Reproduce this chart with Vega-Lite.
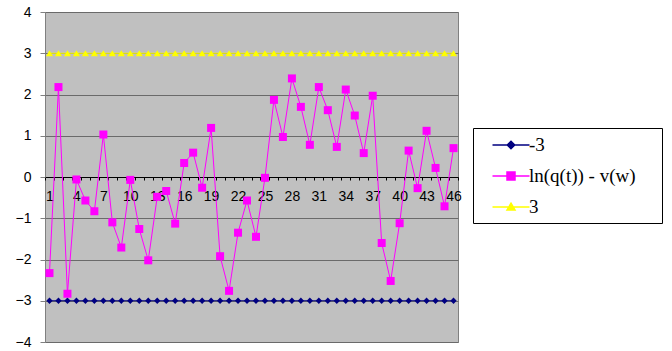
{
  "$schema": "https://vega.github.io/schema/vega-lite/v6.json",
  "width": 413,
  "height": 330,
  "autosize": "none",
  "padding": {"left": 45, "top": 12, "right": 214, "bottom": 9},
  "background": "white",
  "config": {
    "view": {"fill": "#c0c0c0", "stroke": "#808080", "strokeWidth": 1},
    "font": "Liberation Sans"
  },
  "data": {
    "values": [
      {"t": 1, "-3": -3, "ln(q(t)) - v(w)": -2.33, "3": 3},
      {"t": 2, "-3": -3, "ln(q(t)) - v(w)": 2.18, "3": 3},
      {"t": 3, "-3": -3, "ln(q(t)) - v(w)": -2.83, "3": 3},
      {"t": 4, "-3": -3, "ln(q(t)) - v(w)": -0.06, "3": 3},
      {"t": 5, "-3": -3, "ln(q(t)) - v(w)": -0.57, "3": 3},
      {"t": 6, "-3": -3, "ln(q(t)) - v(w)": -0.83, "3": 3},
      {"t": 7, "-3": -3, "ln(q(t)) - v(w)": 1.03, "3": 3},
      {"t": 8, "-3": -3, "ln(q(t)) - v(w)": -1.1, "3": 3},
      {"t": 9, "-3": -3, "ln(q(t)) - v(w)": -1.71, "3": 3},
      {"t": 10, "-3": -3, "ln(q(t)) - v(w)": -0.07, "3": 3},
      {"t": 11, "-3": -3, "ln(q(t)) - v(w)": -1.26, "3": 3},
      {"t": 12, "-3": -3, "ln(q(t)) - v(w)": -2.02, "3": 3},
      {"t": 13, "-3": -3, "ln(q(t)) - v(w)": -0.48, "3": 3},
      {"t": 14, "-3": -3, "ln(q(t)) - v(w)": -0.34, "3": 3},
      {"t": 15, "-3": -3, "ln(q(t)) - v(w)": -1.13, "3": 3},
      {"t": 16, "-3": -3, "ln(q(t)) - v(w)": 0.34, "3": 3},
      {"t": 17, "-3": -3, "ln(q(t)) - v(w)": 0.59, "3": 3},
      {"t": 18, "-3": -3, "ln(q(t)) - v(w)": -0.26, "3": 3},
      {"t": 19, "-3": -3, "ln(q(t)) - v(w)": 1.19, "3": 3},
      {"t": 20, "-3": -3, "ln(q(t)) - v(w)": -1.92, "3": 3},
      {"t": 21, "-3": -3, "ln(q(t)) - v(w)": -2.76, "3": 3},
      {"t": 22, "-3": -3, "ln(q(t)) - v(w)": -1.35, "3": 3},
      {"t": 23, "-3": -3, "ln(q(t)) - v(w)": -0.57, "3": 3},
      {"t": 24, "-3": -3, "ln(q(t)) - v(w)": -1.45, "3": 3},
      {"t": 25, "-3": -3, "ln(q(t)) - v(w)": -0.02, "3": 3},
      {"t": 26, "-3": -3, "ln(q(t)) - v(w)": 1.87, "3": 3},
      {"t": 27, "-3": -3, "ln(q(t)) - v(w)": 0.97, "3": 3},
      {"t": 28, "-3": -3, "ln(q(t)) - v(w)": 2.39, "3": 3},
      {"t": 29, "-3": -3, "ln(q(t)) - v(w)": 1.7, "3": 3},
      {"t": 30, "-3": -3, "ln(q(t)) - v(w)": 0.78, "3": 3},
      {"t": 31, "-3": -3, "ln(q(t)) - v(w)": 2.18, "3": 3},
      {"t": 32, "-3": -3, "ln(q(t)) - v(w)": 1.62, "3": 3},
      {"t": 33, "-3": -3, "ln(q(t)) - v(w)": 0.73, "3": 3},
      {"t": 34, "-3": -3, "ln(q(t)) - v(w)": 2.12, "3": 3},
      {"t": 35, "-3": -3, "ln(q(t)) - v(w)": 1.49, "3": 3},
      {"t": 36, "-3": -3, "ln(q(t)) - v(w)": 0.58, "3": 3},
      {"t": 37, "-3": -3, "ln(q(t)) - v(w)": 1.97, "3": 3},
      {"t": 38, "-3": -3, "ln(q(t)) - v(w)": -1.6, "3": 3},
      {"t": 39, "-3": -3, "ln(q(t)) - v(w)": -2.52, "3": 3},
      {"t": 40, "-3": -3, "ln(q(t)) - v(w)": -1.12, "3": 3},
      {"t": 41, "-3": -3, "ln(q(t)) - v(w)": 0.64, "3": 3},
      {"t": 42, "-3": -3, "ln(q(t)) - v(w)": -0.27, "3": 3},
      {"t": 43, "-3": -3, "ln(q(t)) - v(w)": 1.12, "3": 3},
      {"t": 44, "-3": -3, "ln(q(t)) - v(w)": 0.22, "3": 3},
      {"t": 45, "-3": -3, "ln(q(t)) - v(w)": -0.71, "3": 3},
      {"t": 46, "-3": -3, "ln(q(t)) - v(w)": 0.7, "3": 3}
    ]
  },
  "transform": [
    {"fold": ["-3", "ln(q(t)) - v(w)", "3"], "as": ["series", "value"]}
  ],
  "encoding": {
    "x": {
      "field": "t",
      "type": "quantitative",
      "scale": {"domain": [0.5, 46.5], "nice": false, "zero": false}
    },
    "y": {
      "field": "value",
      "type": "quantitative",
      "scale": {"domain": [-4, 4], "nice": false, "zero": false},
      "axis": {
        "title": null,
        "values": [-4, -3, -2, -1, 0, 1, 2, 3, 4],
        "format": "d",
        "grid": true,
        "gridColor": "#6a6a6a",
        "gridWidth": 1,
        "domain": false,
        "tickColor": "#808080",
        "tickSize": 5,
        "labelFontSize": 14,
        "labelColor": "#000000",
        "labelPadding": 9
      }
    },
    "color": {
      "field": "series",
      "type": "nominal",
      "scale": {
        "domain": ["-3", "ln(q(t)) - v(w)", "3"],
        "range": ["#000080", "#ff00ff", "#ffff00"]
      },
      "legend": null
    }
  },
  "layer": [
    {
      "mark": {"type": "line", "strokeWidth": 1},
      "encoding": {
        "x": {
          "field": "t",
          "type": "quantitative",
          "axis": {
            "title": null,
            "orient": "bottom",
            "offset": -165,
            "values": [0.5, 1.5, 2.5, 3.5, 4.5, 5.5, 6.5, 7.5, 8.5, 9.5, 10.5, 11.5, 12.5, 13.5, 14.5, 15.5, 16.5, 17.5, 18.5, 19.5, 20.5, 21.5, 22.5, 23.5, 24.5, 25.5, 26.5, 27.5, 28.5, 29.5, 30.5, 31.5, 32.5, 33.5, 34.5, 35.5, 36.5, 37.5, 38.5, 39.5, 40.5, 41.5, 42.5, 43.5, 44.5, 45.5, 46.5],
            "labels": false,
            "grid": false,
            "domain": true,
            "domainColor": "#000000",
            "tickColor": "#000000",
            "tickSize": 3
          }
        },
        "color": {
          "field": "series",
          "type": "nominal",
          "legend": {
            "title": " ",
            "titleOrient": "right",
            "titlePadding": 20,
            "orient": "none",
            "legendX": 428,
            "legendY": 116,
            "padding": 6,
            "strokeColor": "#000000",
            "fillColor": "#ffffff",
            "symbolType": "stroke",
            "symbolSize": 400,
            "symbolStrokeWidth": 1.5,
            "symbolOffset": 21,
            "rowPadding": 10,
            "labelOffset": 7,
            "labelFont": "Liberation Serif",
            "labelFontSize": 19,
            "labelColor": "#000000",
            "labelLimit": 300,
            "encode": {
              "symbols": {
                "update": {
                  "shape": {
                    "signal": "datum.value === '-3' ? 'M-1.85,0L1.85,0M0,-0.37L0.37,0L0,0.37L-0.37,0Z' : datum.value === '3' ? 'M-1.85,0L1.85,0M0,-0.38L0.4,0.3L-0.4,0.3Z' : 'M-1.85,0L1.85,0M-0.4,-0.4L0.4,-0.4L0.4,0.4L-0.4,0.4Z'"
                  },
                  "fill": {"signal": "scale('color', datum.value)"},
                  "stroke": {"signal": "scale('color', datum.value)"},
                  "opacity": {"value": 1}
                }
              }
            }
          }
        }
      }
    },
    {
      "transform": [{"filter": "datum.series === '-3'"}],
      "mark": {"type": "point", "shape": "diamond", "size": 40, "filled": true, "opacity": 1},
      "encoding": {
        "x": {
          "field": "t",
          "type": "quantitative",
          "axis": {
            "title": null,
            "orient": "bottom",
            "offset": -165,
            "values": [1, 4, 7, 10, 13, 16, 19, 22, 25, 28, 31, 34, 37, 40, 43, 46],
            "ticks": false,
            "domain": false,
            "grid": false,
            "labelFontSize": 14,
            "labelColor": "#000000",
            "labelPadding": 12,
            "labelFlush": false,
            "labelOverlap": false
          }
        }
      }
    },
    {
      "transform": [{"filter": "datum.series === 'ln(q(t)) - v(w)'"}],
      "mark": {"type": "point", "shape": "square", "size": 64, "filled": true, "opacity": 1},
      "encoding": {"x": {"field": "t", "type": "quantitative", "axis": null}}
    },
    {
      "transform": [{"filter": "datum.series === '3'"}],
      "mark": {"type": "point", "shape": "triangle-up", "size": 50, "filled": true, "opacity": 1},
      "encoding": {"x": {"field": "t", "type": "quantitative", "axis": null}}
    }
  ],
  "resolve": {"axis": {"x": "independent"}}
}
